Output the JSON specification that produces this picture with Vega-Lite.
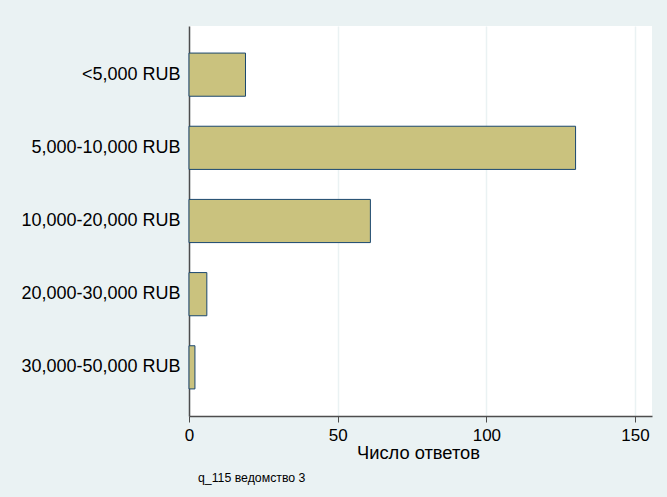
{
  "$schema": "https://vega.github.io/schema/vega-lite/v6.json",
  "width": 463,
  "height": 390,
  "autosize": {"type": "none"},
  "padding": {"left": 189, "top": 26, "right": 15, "bottom": 81},
  "background": "#eaf2f3",
  "data": {
    "values": [
      {"category": "<5,000 RUB", "count": 19},
      {"category": "5,000-10,000 RUB", "count": 130},
      {"category": "10,000-20,000 RUB", "count": 61},
      {"category": "20,000-30,000 RUB", "count": 6},
      {"category": "30,000-50,000 RUB", "count": 2}
    ]
  },
  "title": {
    "text": "q_115 ведомство 3",
    "orient": "bottom",
    "anchor": "start",
    "frame": "group",
    "dx": 9,
    "offset": 11,
    "font": "Liberation Sans",
    "fontSize": 12.3,
    "fontWeight": "normal",
    "color": "#000000"
  },
  "mark": {"type": "bar", "fill": "#cac27e", "stroke": "#1a476f", "strokeWidth": 1},
  "encoding": {
    "y": {
      "field": "category",
      "type": "nominal",
      "sort": null,
      "scale": {"paddingInner": 0.41, "paddingOuter": 0.37},
      "axis": {
        "title": null,
        "ticks": false,
        "grid": false,
        "labelPadding": 9,
        "labelFont": "Liberation Sans",
        "labelFontSize": 18,
        "labelColor": "#000000",
        "domainColor": "#4d4d4d",
        "domainWidth": 1.5
      }
    },
    "x": {
      "field": "count",
      "type": "quantitative",
      "scale": {"domain": [0, 155.7], "nice": false},
      "axis": {
        "title": "Число ответов",
        "values": [0, 50, 100, 150],
        "grid": true,
        "gridColor": "#eaf2f3",
        "gridWidth": 1.5,
        "tickSize": 6,
        "tickColor": "#4d4d4d",
        "domainColor": "#4d4d4d",
        "domainWidth": 1.5,
        "labelFont": "Liberation Sans",
        "labelFontSize": 17,
        "labelColor": "#000000",
        "labelPadding": 5,
        "labelDx": -3,
        "labelFlush": false,
        "titleFont": "Liberation Sans",
        "titleFontSize": 18.3,
        "titleFontWeight": "normal",
        "titleColor": "#000000",
        "titlePadding": 1,
        "titleX": 229
      }
    }
  },
  "config": {
    "view": {"fill": "#ffffff", "stroke": null}
  }
}
